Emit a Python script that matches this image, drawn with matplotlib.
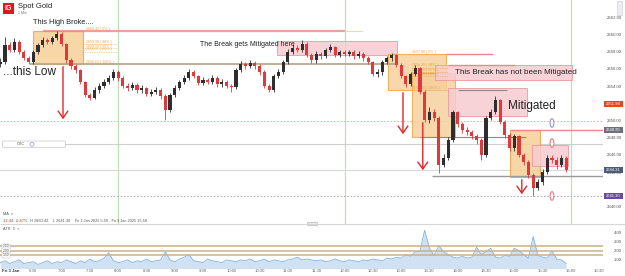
import numpy as np
import pandas as pd
import matplotlib.pyplot as plt
from matplotlib.patches import Rectangle, Ellipse, FancyBboxPatch

plt.rcParams['font.family'] = ['Liberation Sans', 'DejaVu Sans']

# 5 minute candles, Spot Gold, Fri 3 Jan 2025
times = pd.date_range('2025-01-03 05:55', periods=121, freq='5min')
closes = [2656.86, 2658.84, 2658.26, 2659.19, 2658.02, 2657.33, 2656.86, 2658.02, 2658.84, 2659.42,
          2659.19, 2659.65, 2660.12, 2658.95, 2657.09, 2656.40, 2655.93, 2654.54, 2653.02, 2652.67,
          2653.60, 2654.07, 2654.54, 2655.00, 2655.70, 2655.00, 2654.07, 2653.84, 2654.19, 2653.60,
          2653.84, 2653.14, 2653.37, 2653.60, 2652.91, 2651.28, 2653.02, 2653.84, 2654.54, 2655.00,
          2655.70, 2655.23, 2654.42, 2654.77, 2654.54, 2655.00, 2654.30, 2654.54, 2654.07, 2653.95,
          2655.93, 2656.63, 2656.40, 2656.74, 2656.40, 2655.70, 2654.07, 2653.60, 2655.23, 2655.70,
          2656.86, 2658.02, 2658.49, 2658.26, 2658.95, 2657.67, 2657.09, 2657.79, 2657.56, 2658.26,
          2658.60, 2657.67, 2658.02, 2657.79, 2658.02, 2657.56, 2657.79, 2657.33, 2656.86, 2655.47,
          2655.70, 2656.86, 2657.33, 2657.67, 2656.51, 2655.23, 2654.30, 2655.47, 2656.16, 2653.37,
          2650.12, 2651.05, 2650.35, 2644.88, 2645.70, 2647.79, 2651.05, 2649.65, 2648.95, 2648.72,
          2648.26, 2647.79, 2646.05, 2650.35, 2651.05, 2652.44, 2649.88, 2648.37, 2646.86, 2648.26,
          2646.05, 2645.23, 2643.72, 2642.21, 2642.91, 2644.07, 2645.70, 2645.47, 2644.88, 2645.70,
          2644.30]
first_open = 2656.63
highs = [2657.3, 2659.77, 2659.2, 2659.6, 2659.4, 2658.3, 2657.6, 2658.3, 2659.1, 2659.8,
         2659.7, 2659.9, 2660.42, 2660.3, 2659.1, 2657.3, 2656.6, 2656.1, 2654.7, 2653.3,
         2653.9, 2654.4, 2654.9, 2655.4, 2656.0, 2655.9, 2655.2, 2654.4, 2654.5, 2654.4,
         2654.2, 2654.0, 2653.7, 2654.0, 2653.8, 2653.1, 2653.3, 2654.2, 2654.8, 2655.3,
         2656.0, 2655.9, 2655.4, 2655.1, 2655.0, 2655.3, 2655.2, 2654.9, 2654.8, 2654.3,
         2656.2, 2657.0, 2656.9, 2657.1, 2657.0, 2656.6, 2655.9, 2654.3, 2655.5, 2656.1,
         2657.1, 2658.4, 2658.9, 2658.8, 2659.4, 2659.2, 2657.9, 2658.1, 2658.0, 2658.5,
         2658.9, 2658.7, 2658.3, 2658.3, 2658.3, 2658.2, 2658.1, 2658.0, 2657.5, 2657.0,
         2656.0, 2657.1, 2657.6, 2657.9, 2657.8, 2656.7, 2655.4, 2655.7, 2656.5, 2656.3,
         2653.6, 2651.6, 2651.4, 2650.6, 2646.2, 2648.1, 2651.3, 2651.2, 2649.9, 2649.3,
         2649.0, 2648.5, 2648.0, 2650.6, 2651.4, 2652.9, 2652.6, 2650.1, 2648.6, 2648.5,
         2648.4, 2646.3, 2645.5, 2643.9, 2643.2, 2644.4, 2646.1, 2646.1, 2645.8, 2646.0,
         2645.9]
lows = [2656.3, 2656.6, 2658.0, 2658.0, 2657.8, 2657.1, 2656.6, 2656.6, 2657.8, 2658.6,
        2658.9, 2658.9, 2659.4, 2658.7, 2656.8, 2656.1, 2655.6, 2654.3, 2652.8, 2652.44,
        2652.5, 2653.3, 2653.8, 2654.3, 2654.8, 2654.7, 2653.8, 2653.5, 2653.6, 2653.3,
        2653.3, 2652.9, 2652.9, 2653.1, 2652.6, 2650.1, 2651.0, 2652.8, 2653.6, 2654.3,
        2654.8, 2655.0, 2654.2, 2654.2, 2654.3, 2654.3, 2654.0, 2654.0, 2653.8, 2653.4,
        2653.7, 2655.7, 2656.1, 2656.2, 2656.1, 2655.4, 2653.8, 2653.37, 2653.4, 2655.0,
        2655.5, 2656.6, 2657.8, 2658.0, 2658.0, 2657.4, 2656.8, 2656.8, 2657.2, 2657.3,
        2658.0, 2657.4, 2657.4, 2657.5, 2657.5, 2657.2, 2657.3, 2657.0, 2656.6, 2655.2,
        2655.1, 2655.4, 2656.6, 2657.0, 2656.3, 2655.0, 2653.95, 2654.1, 2655.2, 2653.1,
        2649.9, 2649.8, 2650.0, 2643.95, 2644.6, 2645.5, 2647.5, 2649.3, 2648.6, 2648.4,
        2647.9, 2647.3, 2645.47, 2645.8, 2650.1, 2650.8, 2649.6, 2648.0, 2646.5, 2646.5,
        2645.8, 2644.9, 2643.4, 2641.30, 2642.0, 2642.6, 2643.8, 2645.1, 2644.4, 2644.6,
        2644.1]
atr = [0.7, 0.9, 0.6, 0.8, 1.0, 0.6, 0.7, 0.8, 0.5, 0.7, 0.9, 0.6, 0.8, 0.7, 1.0, 0.8, 0.6, 0.9, 0.7, 1.1,
       0.8, 0.9, 1.2, 1.8, 0.9, 0.7, 0.8, 1.0, 0.7, 0.9, 0.8, 1.1, 0.8, 0.9, 1.0, 1.9, 1.0, 0.8, 1.1, 1.3,
       1.6, 0.9, 0.8, 0.7, 1.1, 0.9, 0.8, 0.7, 1.0, 0.9, 0.8, 1.0, 0.9, 1.1, 0.8, 0.9, 1.1, 0.8, 1.0, 0.9,
       0.8, 1.0, 1.1, 1.3, 1.0, 1.1, 1.0, 0.9, 1.0, 0.8, 0.9, 1.1, 0.9, 0.8, 1.0, 0.9, 0.8, 1.0, 0.9, 1.1,
       1.0, 0.9, 1.2, 1.1, 1.3, 1.2, 1.6, 1.4, 1.9, 2.0, 4.3, 2.3, 1.5, 2.6, 1.9, 1.6, 1.3, 1.2, 1.4, 1.2,
       1.3, 2.4, 1.6, 1.9, 2.3, 1.3, 1.2, 1.5, 1.4, 2.3, 2.0, 1.6, 1.2, 3.6, 1.5, 1.3, 1.2, 2.0, 1.1, 1.0,
       0.6]
atr_levels = [2.50, 2.00, 1.50]
price_ticks = [2662, 2660, 2658, 2656, 2654, 2650, 2648, 2646, 2644, 2640]
atr_ticks = [4, 3, 2, 1]
time_ticks = ['6:30', '7:00', '7:30', '8:00', '8:30', '9:00', '9:30', '10:00', '10:30', '11:00',
              '11:30', '12:00', '12:30', '13:00', '13:30', '14:00', '14:30', '15:00', '15:30',
              '16:00', '16:30']
session_marks = ['8:00', '12:00', '16:00']
price_flags = [(2651.98, '#e8461e'), (2648.95, '#6e7179'), (2644.31, '#4c5d7c'), (2641.30, '#6a4c9c')]


def mins(s):
    h, m = s.split(':')
    return (int(h) - 6) * 60 + int(m)


W, H = 625, 276
fig = plt.figure(figsize=(W / 100, H / 100), dpi=100)
RED = '#e3262b'
ORANGE_F = '#f6cf98'
ORANGE_E = '#eea441'
PINK_F = '#f6ccd0'
PINK_E = '#eb98a2'

t = (times - pd.Timestamp('2025-01-03 06:00')).total_seconds().values / 60
c = np.array(closes)
o = np.r_[first_open, c[:-1]]

ax = fig.add_axes([0, 1 - 224 / H, 603 / W, 224 / H])
ax.set_xlim(-5.3, 634.1)
ax.set_ylim(2638.02, 2664.07)
ax.axis('off')

# session lines
for s in session_marks:
    ax.axvline(mins(s), color='#bfe0b6', lw=0.9, zorder=1)

# horizontal reference lines
ax.axhline(2644.31, color='#d8d8d8', lw=0.8, zorder=1)
ax.axhline(2650.0, color='#f0a0a0', lw=0.6, ls=(0, (2, 2)), zorder=1)
ax.axhline(2641.30, color='#a89ad0', lw=0.6, ls=(0, (2, 2)), zorder=1)
ax.hlines(2647.30, 64, 634, color='#cfcfcf', lw=0.8, zorder=1)

# zones and fib boxes
ax.add_patch(Rectangle((mins('6:30'), 2656.63), 53, 3.79, fc=ORANGE_F, ec=ORANGE_E, lw=0.8, alpha=0.85, zorder=2))
ax.hlines(2660.42, 40, 360, color='#ee8888', lw=1.6, alpha=0.8, zorder=3)
ax.hlines(2660.42, 360, 380, color='#f0d8b0', lw=0.8, zorder=3)
fib_pct = [0, 38, 50, 62, 100]
for p in fib_pct:
    lv = 2660.42 - 3.79 * p / 100
    ax.hlines(lv, 83, 119, color=ORANGE_E, lw=0.5, ls=(0, (1, 1.5)), zorder=3)
    ax.text(86, lv + 0.25, f'{lv:.2f} ( {p}% )', fontsize=2.6, color='#e6a552', va='center', zorder=4)
ax.hlines(2656.63, 26, 414, color='#bca88a', lw=1.3, zorder=3)

ax.add_patch(Rectangle((288, 2657.67), 128, 1.63, fc=PINK_F, ec=PINK_E, lw=0.7, alpha=0.85, zorder=2))

ax.add_patch(Rectangle((406, 2653.6), 62, 4.2, fc=ORANGE_F, ec=ORANGE_E, lw=0.8, alpha=0.8, zorder=2))
ax.add_patch(Rectangle((432, 2648.14), 45, 7.4, fc=ORANGE_F, ec=ORANGE_E, lw=0.8, alpha=0.8, zorder=2))
for p in fib_pct:
    lv = 2657.80 - 4.2 * p / 100
    ax.hlines(lv, 432, 470, color=ORANGE_E, lw=0.5, ls=(0, (1, 1.5)), zorder=3)
    ax.text(432, lv + 0.25, f'{lv:.2f} ( {p}% )', fontsize=2.6, color='#e6a552', va='center', zorder=4)
ax.hlines(2657.79, 468, 517, color='#ee8888', lw=1.0, zorder=3)
ax.hlines(2656.51, 470, 541, color='#ee8888', lw=1.0, zorder=3)
ax.add_patch(Rectangle((456, 2654.77), 145, 1.74, fc=PINK_F, ec=PINK_E, lw=0.7, alpha=0.85, zorder=2))
ax.add_patch(Rectangle((470, 2650.58), 84, 3.26, fc=PINK_F, ec=PINK_E, lw=0.7, alpha=0.85, zorder=2))
ax.hlines(2653.6, 480, 532, color='#8a8a8a', lw=0.8, zorder=3)
ax.hlines(2648.14, 440, 552, color='#8a8a8a', lw=0.8, zorder=3)
ax.hlines(2643.60, 453, 634, color='#9a9a9a', lw=1.0, zorder=3)

ax.add_patch(Rectangle((535.5, 2643.49), 32, 5.46, fc=ORANGE_F, ec=ORANGE_E, lw=0.8, alpha=0.85, zorder=2))
ax.add_patch(Rectangle((559, 2644.8), 38, 2.41, fc=PINK_F, ec=PINK_E, lw=0.7, alpha=0.85, zorder=2))
ax.hlines(2648.95, 535, 634, color='#ee8888', lw=1.0, zorder=3)

# candles
up = c >= o
for mask, col in [(up, '#2e2e2e'), (~up, '#e0393b')]:
    ax.vlines(t[mask], np.array(lows)[mask], np.array(highs)[mask], color=col, lw=0.6, zorder=5)
    ax.bar(t[mask], np.maximum(np.abs(c - o)[mask], 0.05), bottom=np.minimum(c, o)[mask],
           width=3.3, color=col, lw=0, zorder=5)

# red arrows
arrows = [(61.5, 2656.63, 2649.88), (422, 2653.6, 2648.14), (443, 2650.12, 2643.95), (548, 2643.49, 2641.16)]
for ax_t, y0, y1 in arrows:
    ax.annotate('', xy=(ax_t, y1), xytext=(ax_t, y0),
                arrowprops=dict(arrowstyle='->,head_width=0.35,head_length=0.5', color=RED, lw=1.0),
                zorder=6)

# small ovals
for y, col in [(2649.77, '#9a94c0'), (2647.44, '#e87a80'), (2641.28, '#e87a80')]:
    ax.add_patch(Ellipse((580, y), 4, 1.0, fc='white', ec=col, lw=0.8, zorder=6))

# annotation texts
ax.text(mins('6:30'), 2661.5, 'This High Broke....', fontsize=5.3, color='#222', va='center', zorder=7)
ax.text(-2, 2655.7, '...this Low', fontsize=8.5, color='#222', va='center', zorder=7)
ax.text(207, 2658.95, 'The Break gets Mitigated here', fontsize=5.0, color='#222', va='center', zorder=7)
ax.text(477, 2655.6, 'This Break has not been Mitigated', fontsize=5.8, color='#222', va='center', zorder=7)
ax.text(533, 2651.75, 'Mitigated', fontsize=8.5, color='#222', va='center', zorder=7)

# ATR panel
ax2 = fig.add_axes([0, 1 - 268 / H, 603 / W, 43 / H])
ax2.set_xlim(-5.3, 634.1)
ax2.set_ylim(0.1, 4.88)
ax2.axis('off')
ax2.fill_between(t, 0, atr, color='#cfe1f3', lw=0)
ax2.plot(t, atr, color='#7eb1e2', lw=0.6)
for lv in atr_levels:
    ax2.axhline(lv, color='#c9b28c', lw=1.1)
    ax2.text(-2.5, lv, f'{lv:.2f}', fontsize=2.4, color='#555', va='center',
             bbox=dict(boxstyle='square,pad=0.15', fc='white', ec='#bbb', lw=0.3))

# overlay for chrome
ov = fig.add_axes([0, 0, 1, 1])
ov.set_xlim(0, W)
ov.set_ylim(H, 0)
ov.axis('off')
ov.patch.set_alpha(0)

ov.add_patch(Rectangle((3, 3), 11, 11, fc='#e4151f', ec='none'))
ov.text(8.5, 8.8, 'IG', fontsize=5, color='white', ha='center', va='center', weight='bold')
ov.text(18, 6.5, 'Spot Gold', fontsize=5.5, color='#222', va='center')
ov.text(18, 12.5, '1 Min', fontsize=2.6, color='#777', va='center')

ov.add_patch(Rectangle((617, 1), 5, 14, fc='#eeeef2', ec='#c8c8d0', lw=0.4))

ov.hlines(224, 0, W, color='#d6d6d6', lw=0.8)
ov.add_patch(FancyBboxPatch((308, 222.5), 9, 3, boxstyle='round,pad=0.3', fc='#e8e8e8', ec='#aaa', lw=0.4))

ov.add_patch(FancyBboxPatch((3, 141.5), 62, 5.5, boxstyle='round,pad=0.5', fc='white', ec='#c9c9c9', lw=0.5))
ov.text(25, 144.3, 'GTC', fontsize=2.8, color='#555', ha='right', va='center')
ov.add_patch(Ellipse((32, 144.3), 4, 4, fc='white', ec='#8aa0c8', lw=0.5))

ov.text(3, 214, 'MA  ×', fontsize=2.8, color='#555', va='center')
ov.text(3, 220.8, '-12.44', fontsize=2.8, color='#e3262b', va='center')
ov.text(16, 220.8, '-0.47%', fontsize=2.8, color='#e3262b', va='center')
ov.text(30, 220.8, 'H 2660.42    L 2641.30    Fri 3 Jan 2025 5:50 - Fri 3 Jan 2025 15:50',
        fontsize=2.8, color='#555', va='center')
ov.text(3, 229, 'ATR  5  ×', fontsize=2.8, color='#555', va='center')

# price axis labels
def py(p):
    return 0 + (2664.07 - p) * 8.6

for p in price_ticks:
    ov.text(622, py(p), f'{p:.2f}', fontsize=3.1, color='#555', ha='right', va='center')
for p, col in price_flags:
    ov.add_patch(Rectangle((604, py(p) - 3.3), 19, 6.6, fc=col, ec='none'))
    ov.text(613.5, py(p), f'{p:.2f}', fontsize=3.0, color='white', ha='center', va='center')

for v in atr_ticks:
    ov.text(622, 269 - 9 * v, f'{v:.2f}', fontsize=3.1, color='#555', ha='right', va='center')

ov.text(2, 271.5, 'Fri 3 Jan', fontsize=3.1, color='#333', weight='bold', va='center')
for s in time_ticks:
    ov.text(5 + mins(s) * 0.943, 271.5, s, fontsize=3.1, color='#666', ha='center', va='center')

fig.savefig('out.png', dpi=100)
